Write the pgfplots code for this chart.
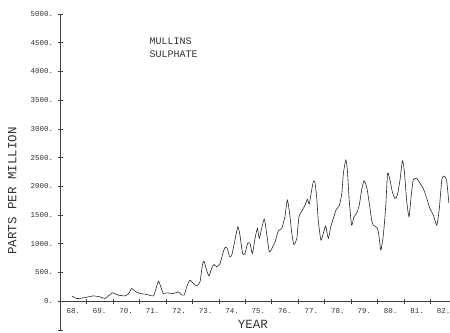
\documentclass[border=0pt]{standalone}
\usepackage{pgfplots}
\pgfplotsset{compat=1.18}
\usepackage{pgfplotstable}
\usepackage{fontspec}
\newfontfamily\plotfont{Liberation Mono}
\pgfplotstableread{
x y
68.44 92
68.63 47
68.88 57
69.26 92
69.51 75
69.70 47
69.89 117
69.99 145
70.20 105
70.46 92
70.58 122
70.71 221
70.83 174
71.02 134
71.28 117
71.53 92
71.63 221
71.72 348
71.81 249
71.90 134
72.03 145
72.28 134
72.47 162
72.56 122
72.69 105
72.79 249
72.91 366
73.04 308
73.17 267
73.29 336
73.38 627
73.44 697
73.54 540
73.63 441
73.73 570
73.82 639
73.92 598
74.05 657
74.15 831
74.24 935
74.32 918
74.41 772
74.49 801
74.61 1063
74.72 1294
74.80 1150
74.90 831
74.99 831
75.09 1005
75.18 1005
75.27 831
75.37 1092
75.46 1266
75.53 1092
75.62 1266
75.72 1428
75.81 1179
75.91 859
76.04 946
76.13 1033
76.25 1225
76.38 1266
76.50 1469
76.59 1759
76.67 1556
76.76 1179
76.84 988
76.95 1092
77.03 1469
77.16 1585
77.26 1672
77.35 1772
77.42 1690
77.49 1876
77.57 2078
77.63 2078
77.70 1817
77.76 1411
77.86 1063
77.95 1179
78.04 1307
78.14 1092
78.23 1294
78.33 1441
78.43 1585
78.56 1672
78.65 1876
78.71 2225
78.80 2456
78.86 2282
78.93 1759
79.02 1324
79.11 1469
79.21 1528
79.31 1672
79.40 1934
79.49 2096
79.59 1991
79.69 1702
79.78 1411
79.84 1324
79.97 1284
80.03 1207
80.09 1005
80.13 888
80.22 1150
80.31 1643
80.38 2225
80.47 2108
80.56 1904
80.66 1789
80.75 1847
80.85 2108
80.94 2444
81.01 2282
81.10 1759
81.19 1469
81.27 1817
81.35 2108
81.48 2137
81.61 2050
81.73 1963
81.86 1789
81.98 1615
82.11 1498
82.24 1324
82.33 1585
82.43 2108
82.51 2178
82.61 2108
82.70 1702
}\sulphate
\begin{document}
\begin{tikzpicture}
\begin{axis}[
  scale only axis,
  width=390pt, height=316pt,
  xmin=68, xmax=82.74,
  ymin=-500, ymax=5000,
  axis x line*=middle,
  axis y line*=left,
  axis line style={black!75, line width=0.5pt},
  clip=false,
  tick align=center,
  major tick length=5pt,
  minor tick length=5pt,
  tick style={black!75, line width=0.5pt},
  xtick={68.5,69.5,...,82.5},
  xticklabels={68.,69.,70.,71.,72.,73.,74.,75.,76.,77.,78.,79.,80.,81.,82.},
  major x tick style={draw=none},
  minor xtick={69,70,...,82},
  ytick={-500,0,500,...,5000},
  yticklabels={,0.,500.,1000.,1500.,2000.,2500.,3000.,3500.,4000.,4500.,5000.},
  /pgf/number format/assume math mode=true,
  ticklabel style={font=\plotfont\fontsize{7.5}{8}\selectfont, text=black!80},
  yticklabel style={xshift=-1pt},
  xticklabel style={yshift=-1pt},
]
\addplot[black!85, line width=0.6pt, mark=none, smooth, tension=0.35] table[x=x,y=y] {\sulphate};
\node[anchor=west, font=\plotfont\fontsize{10}{11}\selectfont, text=black!80] at (axis cs:71.25,4529) {MULLINS};
\node[anchor=west, font=\plotfont\fontsize{10}{11}\selectfont, text=black!80] at (axis cs:71.25,4303) {SULPHATE};
\node[rotate=90, font=\plotfont\fontsize{12.5}{13}\selectfont, text=black!80] at (axis cs:66.19,1916) {PARTS PER MILLION};
\node[font=\plotfont\fontsize{12.5}{13}\selectfont, text=black!80] at (axis cs:75.29,-401) {YEAR};
\coordinate (bl) at (axis cs:65.73,-540);
\coordinate (tr) at (axis cs:82.74,5243);
\end{axis}
\pgfresetboundingbox
\path (bl) rectangle (tr);
\end{tikzpicture}
\end{document}
